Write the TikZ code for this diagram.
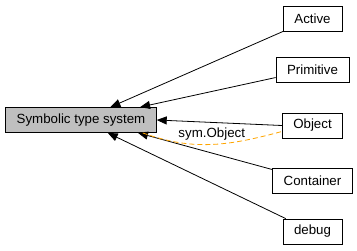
\documentclass[tikz,border=0pt]{standalone}
\usepackage{fontspec}
\setmainfont{Liberation Sans}
\usepackage{xcolor}
\usepackage{tikz}
\usetikzlibrary{arrows.meta}
\definecolor{groupfill}{HTML}{BFBFBF}
\definecolor{relation}{HTML}{FFA500}

\begin{document}
\begin{tikzpicture}[
    x=1pt, y=-1pt,
    box/.style={rectangle, draw=black, fill=white, line width=0.8pt, minimum width=59pt, minimum height=25pt, inner xsep=11pt, align=center, font=\fontsize{13.3}{16}\selectfont},
    arrow/.style={-{Triangle[length=10pt, width=8pt]}, line width=0.8pt, black},
    dep/.style={dash pattern=on 5pt off 3pt, line width=0.8pt, relation}
  ]

    \useasboundingbox (0,0) rectangle (357,251);

    \node[box, fill=groupfill] (system) at (81,120) {Symbolic type system};

    \node[box] (active) at (312.5,18.5) {Active};
    \node[box] (primitive) at (312.5,69.5) {Primitive};
    \node[box] (object) at (312.5,125.5) {Object};
    \node[box] (container) at (312.5,180.5) {Container};
    \node[box] (debug) at (312.5,231.5) {debug};

    \draw[arrow] (active) -- (system);
    \draw[arrow] (primitive) -- (system);
    \draw[arrow] (object.west) -- (system.east);
    \draw[arrow] (container) -- ([xshift=57pt]system.south);
    \draw[arrow] (debug) -- (system);

    \draw[dep] ([xshift=-14pt]system.south east) to[out=-20, in=195]
      node[above, black, font=\fontsize{13.3}{16}\selectfont] {sym.Object} ([yshift=-6pt]object.west);

  \end{tikzpicture}
\end{document}
